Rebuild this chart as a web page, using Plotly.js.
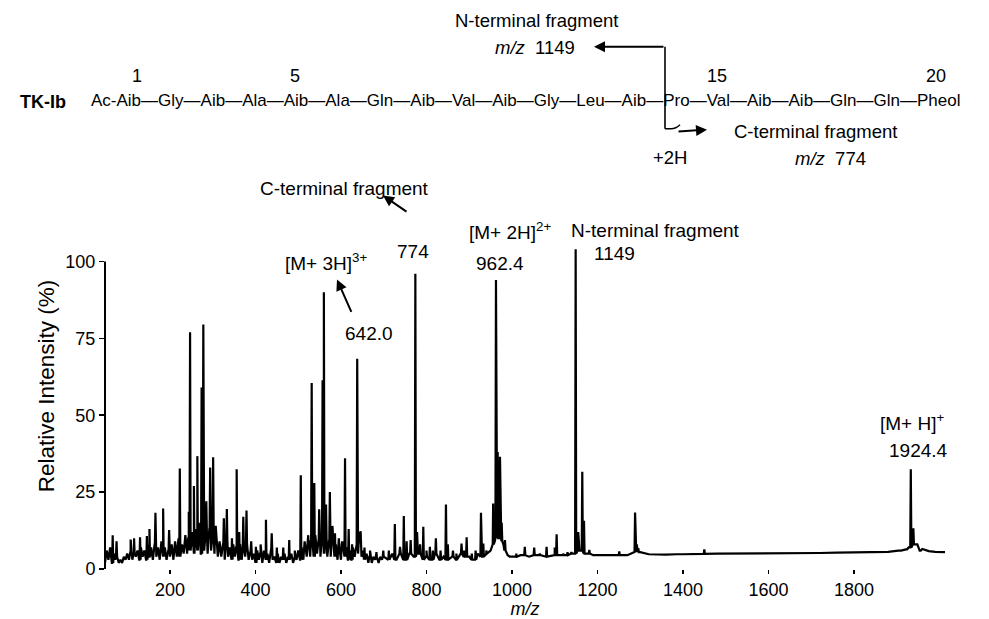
<!DOCTYPE html>
<html><head><meta charset="utf-8">
<script src="https://cdn.plot.ly/plotly-3.0.1.min.js"></script>
<style>html,body{margin:0;padding:0;background:#fff;} #chart{width:989px;height:619px;}</style>
</head><body><div id="chart"></div>
<script>
// ---- data ----
const peakMz = [66,75,108,116,130,146,152,166,184,198,223,244,247,256,264,268,274,278,285,294,301,307,326,333,345,356,362,371.5,379,390,401,412,424.5,438,450,465,479,492,506,515,523.5,531.5,537.6,549,557,560,565,574,580,586,595,603,609.5,618,626,638,643,646,655,668,683,699,712,726,738,747,753.6,763,774,778,785,792.6,800,808,815,822,833,845.6,850,862,870,882,888,894,906,915,927.5,933,940,956,962.6,966.6,972,976,983.6,1010,1030,1052,1065,1081,1100,1104.5,1120,1130,1139,1149,1155,1164.5,1168.5,1181,1251,1288,1292,1295.5,1384,1450,1545,1905,1923,1933,1939,1947,1955];
const peakInt = [11,9,9.6,10,10.3,10.7,13,18.3,19.7,12.7,32.7,18.6,77,27,36.7,15,59,79.5,22,33,36.3,14,16.5,19.5,10,32.4,12,17,19,9,7.2,8,16,11.6,7,7,9.4,6,30.5,9,11,60.5,28,19.4,61.4,90,21,25,14,11.6,10,9,36,13,8,68.4,12,12.3,7,6,5.5,6,6,14.6,7.2,17.2,9,9.4,96,12,8,13.7,6,7.2,6,10,6,21,8,6,5,8.3,6,10.3,5,6,18.3,8.3,6,21.3,94,38,36.5,15,9.4,5,7.2,7,5,7.2,7,11.3,5,5.5,5.5,104,12,31.6,15.7,6.2,5.7,18.4,8,6.8,5,6.4,5,6,6.4,32.4,13.2,8,6];
// baseline "grass" (low-mass region)
const noiseLowMz = [48,52,56,60,64,68,72,76,80,84,88,92,96,100,104,108,112,116,120,124,128,132,136,140,144,148,152,156,160,164,168,172,176,180,184,188,192,196,200,204,208,212,216,220,224,228,232,236,240,244,248,252,256,260,264,268,272,276,280,284,288,292,296,300,304,308,312,316,320,324,328,332,336,340,344,348,352,356,360,364,368,372,376,380,384,388,392,396,400,404,408,412,416,420,424,428,432,436,440,444,448,452,456,460,464,468,472,476,480,484,488,492,496,500,504,508,512,516,520,524,528,532,536,540,544,548,552,556,560,564,568,572,576,580,584,588,592,596,600,604,608,612,616,620,624,628,632,636,640,644,648,652,656,660,664,668,672,676,680,684,688,692,696,700];
const noiseLowInt = [2,6,3,7,2,5,3,4,2,3, 2,4,3,5,3,6,3,5,4,6, 3,7,4,6,3,8,4,7,3,8, 4,7,3,9,4,7,3,6,4,8, 3,9,4,10,4,8,5,11,5,10, 6,12,5,13,6,12,5,14,6,12, 5,13,6,11,5,12,4,9,4,8, 3,9,4,7,3,8,4,7,3,8, 3,7,4,8,3,6,3,5,2,6, 3,5,2,6,3,5,2,6,3,4, 2,5,2,4,3,5,2,4,3,5, 2,4,3,6,3,7,3,8,4,9, 4,10,4,11,5,10,4,11,5,10, 4,9,4,10,4,8,3,7,3,8, 4,7,3,6,3,7,4,8,5,9, 4,6,3,5,2,4,2,4,3,4, 2,4,3,4];
// baseline (high-mass region)
const noiseHighMz = [710,720,730,740,750,760,770,780,790,800,810,820,830,840,850,860,870,880,890,900,910,920,930,940,950, 955,960,965,970,975,980,985,990,995,1000, 1010,1020,1040,1060,1080,1100,1120,1140,1158,1175,1190,1210,1240,1270,1300,1320,1360,1400,1440,1480, 1520,1560,1600,1640,1680,1720,1760,1800,1840,1880,1910,1928,1945,1960,1975,1990,2013];
const noiseHighInt = [3,5,3,5,3,5,4,5,3,4,3,5,3,4,3,4,3,5,4,4,3,5,4,5,6, 8,9,10,10,9,8,6,4.5,4,4, 4,4.5,4,4.5,4,4.5,4.5,5,6,5,4.5,4.5,4.5,4.5,5.5,4.8,4.7,4.8,4.9,5, 5,5,5,5.1,5.2,5.2,5.3,5.4,5.5,5.6,6,7,8,6.5,5.8,5.6,5.5];
const xTickVals = [200,400,600,800,1000,1200,1400,1600,1800];
const yTickVals = [0,25,50,75,100];

// ---- build the spectrum profile from the peak and baseline lists ----
const noiseMz = noiseLowMz.concat(noiseHighMz);
const noiseInt = noiseLowInt.concat(noiseHighInt);
function nearestNoise(m){
  let bi = 0, bd = Infinity;
  noiseMz.forEach((v,i)=>{ const d = Math.abs(v-m); if(d<bd){bd=d;bi=i;} });
  return noiseInt[bi];
}
const pts = [];
noiseMz.forEach((m,i)=>pts.push([m, noiseInt[i]]));
peakMz.forEach((m,i)=>{
  const b = Math.min(nearestNoise(m), peakInt[i]);
  pts.push([m-1.3, b]); pts.push([m, peakInt[i]]); pts.push([m+1.3, b]);
});
pts.sort((a,b)=>a[0]-b[0]);

const trace = {
  type:'scatter', mode:'lines',
  x: pts.map(p=>p[0]), y: pts.map(p=>p[1]),
  line:{color:'#000', width:2.2}, hoverinfo:'skip', showlegend:false
};

// ---- layout helpers (page pixels -> paper coords) ----
const PL=105, PR=945, PT=242.5, PB=569;
const X = px => (px-PL)/(PR-PL);
const Y = py => (PB-py)/(PB-PT);
const F = 'Liberation Sans, Arial, Helvetica, sans-serif';

function txt(text, px, py, size, extra){
  return Object.assign({text:text, xref:'paper', yref:'paper', x:X(px), y:Y(py),
    xanchor:'center', yanchor:'middle', showarrow:false,
    font:{family:F, size:size||19, color:'#000'}}, extra||{});
}
function arrow(hx, hy, tx, ty){
  return {text:'', xref:'paper', yref:'paper', x:X(hx), y:Y(hy),
    ax:tx-hx, ay:ty-hy, showarrow:true, arrowhead:2, arrowsize:1.1, arrowwidth:2,
    arrowcolor:'#000', standoff:0, startstandoff:0};
}

const seq = 'Ac-Aib\u2014Gly\u2014Aib\u2014Ala\u2014Aib\u2014Ala\u2014Gln\u2014Aib\u2014Val\u2014Aib\u2014Gly\u2014Leu\u2014Aib\u2014Pro\u2014Val\u2014Aib\u2014Aib\u2014Gln\u2014Gln\u2014Pheol';

const annotations = [
  // top peptide scheme
  txt('N-terminal fragment', 536, 20, 18.5),
  txt('<i>m/z</i>  1149', 535, 47, 18.5),
  txt('1', 137, 75, 18), txt('5', 295, 75, 18), txt('15', 717, 75, 18), txt('20', 936, 75, 18),
  txt('<b>TK-Ib</b>', 43, 101, 18),
  txt(seq, 89, 100, 17, {xanchor:'left'}),
  txt('C-terminal fragment', 815, 131, 18.5),
  txt('+2H', 670, 157, 18.5),
  txt('<i>m/z</i>  774', 830, 158, 18.5),
  arrow(594, 46, 665, 46),
  arrow(707, 129, 677, 131),
  // spectrum labels
  txt('C-terminal fragment', 344, 188),
  arrow(383, 195, 408, 212),
  txt('774', 413, 251),
  txt('[M+ 3H]<sup>3+</sup>', 326, 262),
  arrow(337, 279, 352, 313),
  txt('642.0', 369, 333),
  txt('[M+ 2H]<sup>2+</sup>', 510, 230),
  txt('962.4', 500, 263),
  txt('N-terminal fragment', 655, 230),
  txt('1149', 614, 253),
  txt('[M+ H]<sup>+</sup>', 912, 422),
  txt('1924.4', 918, 450),
  // y axis title
  txt('Relative Intensity (%)', 46, 386, 22.5, {textangle:-90})
];

const shapes = [
  // y axis line from 0 to 100
  {type:'line', xref:'paper', yref:'y', x0:0, x1:0, y0:0, y1:100, line:{color:'#000', width:2}},
  // scheme cleavage line
  {type:'line', xref:'paper', yref:'paper', x0:X(665), x1:X(665), y0:Y(46), y1:Y(128), line:{color:'#000', width:1.6}},
  {type:'path', xref:'paper', yref:'paper',
   path:`M ${X(665)},${Y(128)} L ${X(671)},${Y(128)} Q ${X(676)},${Y(128)} ${X(680)},${Y(124)}`,
   line:{color:'#000', width:1.4}}
];

const layout = {
  width:989, height:619,
  margin:{l:PL, r:989-PR, t:PT, b:619-PB, pad:0},
  paper_bgcolor:'#fff', plot_bgcolor:'#fff',
  font:{family:F, color:'#000', size:18},
  xaxis:{range:[48,2013], tickvals:xTickVals, ticktext:xTickVals.map(String),
    ticks:'outside', ticklen:4, tickwidth:1.5, tickcolor:'#000',
    showline:false, showgrid:false, zeroline:false,
    tickfont:{family:F, size:18, color:'#000'},
    title:{text:'<i>m/z</i>', font:{family:F, size:18, color:'#000'}, standoff:3}},
  yaxis:{range:[0,106], tickvals:yTickVals, ticktext:yTickVals.map(String),
    ticks:'outside', ticklen:5, tickwidth:1.5, tickcolor:'#000',
    showline:false, showgrid:false, zeroline:false,
    tickfont:{family:F, size:18, color:'#000'}},
  annotations:annotations, shapes:shapes, showlegend:false
};

Plotly.newPlot('chart', [trace], layout, {staticPlot:true, displayModeBar:false});
</script></body></html>
